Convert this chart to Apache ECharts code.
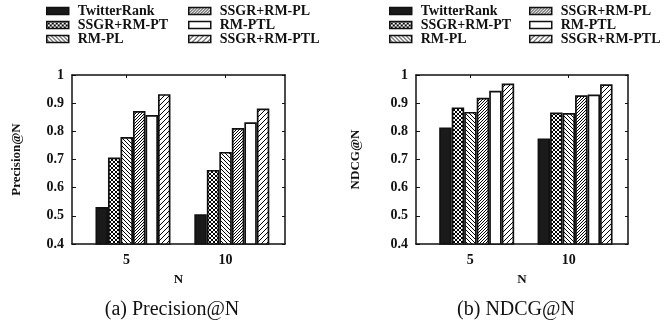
<!DOCTYPE html>
<html><head><meta charset="utf-8">
<script src="https://cdn.jsdelivr.net/npm/echarts@6/dist/echarts.min.js"></script>
<style>html,body{margin:0;padding:0;background:#fff}#c{width:664px;height:326px}</style>
</head><body><div id="c"></div>
<script>
// ---- data ----
const categories = ['5', '10'];
const seriesNames = ['TwitterRank', 'SSGR+RM-PT', 'RM-PL', 'SSGR+RM-PL', 'RM-PTL', 'SSGR+RM-PTL'];
const yTicks = [0.4, 0.5, 0.6, 0.7, 0.8, 0.9, 1];
// Precision@N
const precTwitterRank = [0.531, 0.506];
const precSSGR_RM_PT  = [0.707, 0.663];
const precRM_PL       = [0.780, 0.727];
const precSSGR_RM_PL  = [0.872, 0.812];
const precRM_PTL      = [0.858, 0.832];
const precSSGR_RM_PTL = [0.932, 0.881];
// NDCG@N
const ndcgTwitterRank = [0.814, 0.775];
const ndcgSSGR_RM_PT  = [0.885, 0.867];
const ndcgRM_PL       = [0.869, 0.865];
const ndcgSSGR_RM_PL  = [0.919, 0.928];
const ndcgRM_PTL      = [0.944, 0.931];
const ndcgSSGR_RM_PTL = [0.970, 0.967];

const precData = [precTwitterRank, precSSGR_RM_PT, precRM_PL, precSSGR_RM_PL, precRM_PTL, precSSGR_RM_PTL];
const ndcgData = [ndcgTwitterRank, ndcgSSGR_RM_PT, ndcgRM_PL, ndcgSSGR_RM_PL, ndcgRM_PTL, ndcgSSGR_RM_PTL];

// ---- styles ----
const INK = '#111';
const SERIF = '"Liberation Serif", "DejaVu Serif", serif';
function tile(size, draw) {
  const c = document.createElement('canvas');
  c.width = size; c.height = size;
  const g = c.getContext('2d');
  g.fillStyle = '#fff'; g.fillRect(0, 0, size, size);
  g.strokeStyle = '#000'; g.lineWidth = 1;
  draw(g, size);
  return { image: c, repeat: 'repeat' };
}
function fwd(g, s) { // "/"
  g.beginPath();
  g.moveTo(-1, s + 1); g.lineTo(s + 1, -1);
  g.moveTo(-1, 1); g.lineTo(1, -1);
  g.moveTo(s - 1, s + 1); g.lineTo(s + 1, s - 1);
  g.stroke();
}
function back(g, s) { // "\"
  g.beginPath();
  g.moveTo(-1, -1); g.lineTo(s + 1, s + 1);
  g.moveTo(s - 1, -1); g.lineTo(s + 1, 1);
  g.moveTo(-1, s - 1); g.lineTo(1, s + 1);
  g.stroke();
}
const fills = [
  '#1a1a1a',
  tile(4, (g, s) => { fwd(g, s); back(g, s); }),
  tile(4, back),
  tile(3, fwd),
  '#ffffff',
  tile(5, fwd)
];

const XMIN = -0.617, XMAX = 1.538, TICK_SHIFT = -0.065;
const tickPos = categories.map((_, i) => i + TICK_SHIFT);
const grids = [
  { left: 72, top: 75, width: 213, height: 169 },
  { left: 416, top: 75, width: 212, height: 169 }
];
const yNames = ['Precision@N', 'NDCG@N'];
const yNameGaps = [49, 54];

const frameLine = { show: true, onZero: false, lineStyle: { color: INK, width: 1.5 } };
const xAxes = [], yAxes = [], series = [];
grids.forEach((gr, gi) => {
  xAxes.push({
    type: 'value', gridIndex: gi, min: XMIN, max: XMAX, position: 'bottom',
    name: 'N', nameLocation: 'middle', nameGap: 29,
    nameTextStyle: { fontFamily: SERIF, fontWeight: 'bold', fontSize: 13, color: INK },
    axisLine: frameLine,
    axisTick: { show: false },
    splitLine: { show: false },
    axisLabel: {
      customValues: tickPos, margin: 9,
      formatter: v => categories[Math.round(v - TICK_SHIFT)],
      fontFamily: SERIF, fontWeight: 'bold', fontSize: 14, color: INK
    }
  });
  xAxes.push({
    type: 'value', gridIndex: gi, min: XMIN, max: XMAX, position: 'top',
    axisLine: frameLine,
    axisTick: { show: true, inside: true, length: 3, customValues: tickPos, lineStyle: { color: INK, width: 1 } },
    axisLabel: { show: false }, splitLine: { show: false }
  });
  yAxes.push({
    type: 'value', gridIndex: gi, min: yTicks[0], max: yTicks[yTicks.length - 1], interval: 0.1, position: 'left',
    name: yNames[gi], nameLocation: 'middle', nameGap: yNameGaps[gi],
    nameTextStyle: { fontFamily: SERIF, fontWeight: 'bold', fontSize: 13, color: INK },
    axisLine: frameLine,
    axisTick: { show: true, inside: true, length: 4, lineStyle: { color: INK, width: 1 } },
    splitLine: { show: false },
    axisLabel: { margin: 8, fontFamily: SERIF, fontWeight: 'bold', fontSize: 14, color: INK }
  });
  yAxes.push({
    type: 'value', gridIndex: gi, min: yTicks[0], max: yTicks[yTicks.length - 1], interval: 0.1, position: 'right',
    axisLine: frameLine,
    axisTick: { show: true, inside: true, length: 3, lineStyle: { color: INK, width: 1 } },
    splitLine: { show: false }, axisLabel: { show: false }
  });
  const dataset = gi === 0 ? precData : ndcgData;
  seriesNames.forEach((name, si) => {
    series.push({
      type: 'bar', name, xAxisIndex: gi * 2, yAxisIndex: gi * 2,
      barWidth: 12.5, barGap: '0%',
      data: dataset[si].map((v, ci) => [ci, v]),
      itemStyle: { color: fills[si], borderColor: INK, borderWidth: 1.7 },
      emphasis: { disabled: true }, animation: false
    });
  });
});

const legendText = { fontFamily: SERIF, fontWeight: 'bold', fontSize: 14, color: INK, lineHeight: 13, padding: [0, 0, 0, 4] };
function legend(left, names) {
  return {
    orient: 'vertical', left, top: 4, padding: 0, itemWidth: 22, itemHeight: 7, itemGap: 0,
    icon: 'rect', data: names, selectedMode: false,
    itemStyle: { borderColor: INK, borderWidth: 1.5 },
    textStyle: legendText
  };
}
const col1 = seriesNames.slice(0, 3), col2 = seriesNames.slice(3);

const option = {
  backgroundColor: '#fff', animation: false,
  grid: grids.map(g => Object.assign({ show: false }, g)),
  xAxis: xAxes, yAxis: yAxes, series,
  legend: [legend(46, col1), legend(188, col2), legend(389, col1), legend(529, col2)],
  graphic: [
    { type: 'text', x: 172, y: 310, style: { text: '(a) Precision@N', font: '20px ' + SERIF, fill: INK, textAlign: 'center', textVerticalAlign: 'middle' } },
    { type: 'text', x: 516, y: 310, style: { text: '(b) NDCG@N', font: '20px ' + SERIF, fill: INK, textAlign: 'center', textVerticalAlign: 'middle' } }
  ]
};
const chart = echarts.init(document.getElementById('c'), null, { renderer: 'canvas' });
chart.setOption(option);
</script></body></html>
